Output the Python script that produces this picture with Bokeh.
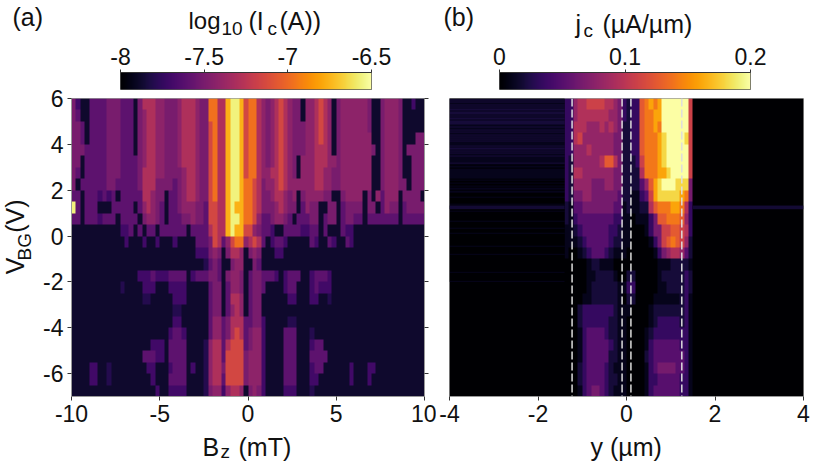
import numpy as np
from bokeh.core.properties import value
from bokeh.embed import file_html
from bokeh.layouts import column, row
from bokeh.models import ColumnDataSource, FixedTicker, LinearAxis, LinearColorMapper, Range1d, Span
from bokeh.palettes import Inferno256
from bokeh.plotting import figure
from bokeh.resources import INLINE

FONT = "Liberation Sans"
TICK_SIZE = "23px"
TEXT_COLOR = "#111111"

BZ_TICKS = [-10, -5, 0, 5, 10]
VBG_TICKS = [-6, -4, -2, 0, 2, 4, 6]
Y_TICKS = [-4, -2, 0, 2, 4]
CB_A_TICKS = [-8, -7.5, -7, -6.5]
CB_A_LABELS = ["-8", "-7.5", "-7", "-6.5"]
CB_B_TICKS = [0, 0.1, 0.2]
CB_B_LABELS = ["0", "0.1", "0.2"]
DASHED_Y = [-1.23, -0.1, 0.1, 1.25]

LEVELS_A = [-7.88, -7.8, -7.7, -7.6, -7.5, -7.42, -7.3, -7.15, -6.97, -6.76, -6.56]
LEVELS_B = [0, 0.01, 0.02, 0.035, 0.05, 0.065, 0.08, 0.095, 0.11, 0.125, 0.14, 0.16, 0.18, 0.2]

# Panel (a): top row first, V_BG from 6 to -7 in 0.5 V rows, B_z from -10 to 10 in 0.25 mT columns
ROWS_A = [
    "4200333344 4333046665 5444566654 488669aa97 8865456765 4405567650 4555555400 4555400200",
    "4300333344 4333045665 5444566654 488669aa97 8865456765 4405567650 4555555400 4555400000",
    "4430333344 4333045665 5444566654 478669aa97 8865456765 4445567650 4555555400 4555400000",
    "4430333344 4333045665 5444566654 478669aa97 8865456765 4445567650 4555555500 4555400044",
    "4443333344 4333045665 5444566654 478669aa97 8865456765 4445566650 4555555540 4555404444",
    "4403333344 4333345665 5444566654 478669aa97 8865456765 4055566655 4555555500 4555400444",
    "4303333344 4333346665 5444456654 478669aa97 8865566765 4055566554 4555555500 4555400444",
    "4033333344 3333346664 4443456654 478669aa98 8764556765 5555566554 4555555500 4555440444",
    "3303332323 0333336654 4033456654 478669aa98 8764456654 5045555440 0455550405 3555044440",
    "a303330003 3333035654 3033455544 377669a998 8764445654 4035440044 0344440440 3544034444",
    "3303332333 0333304554 3033344544 377669aa98 8753345543 0333440344 0344330333 3333033333",
    "0000000000 0223030330 3333330333 367669a997 7543320033 3322330300 0322000000 0000000000",
    "0000000000 0020002002 0002000033 3476357885 6763023320 0000320032 0032000000 0000000000",
    "0000000000 0000000000 0000000022 2454046650 4540002200 0000000000 0000000000 0000000000",
    "0000000000 0000000000 0000000000 1343004550 0430000000 0000000000 0000000000 0000000000",
    "0000000000 0000022232 2233330233 3443045540 3443332023 3300233320 0000000000 0000000000",
    "0000000000 0100002220 0022220000 0344035540 3443000023 3000232220 0000000000 0000000000",
    "0000000000 0000001100 0002220000 0344036650 3440000002 2000220010 0000000000 0000000000",
    "0000000000 0000000000 0001100000 0344035650 3440000000 0000000000 0000000000 0000000000",
    "0000000000 0000000000 0002200000 0355346663 3442000001 1000000000 0000000000 0000000000",
    "0000000000 0000000000 0023320000 0355346763 4552000033 3000100000 0000000000 0000000000",
    "0000000000 0000000022 2033330000 1566367773 4552000033 3000233000 0000000000 0000000000",
    "0000000000 0000003332 2033330000 1566377774 5552000033 3000333300 0000000000 0000000000",
    "0000220010 0000000220 0023330200 1566477774 5552000033 3000233000 0002000220 0000000000",
    "0000220010 0000000020 0033330000 1566377774 5552000033 3000220000 0002000200 0000000000",
    "0000000000 0000000002 0022220000 1455256650 4542000022 2000100000 0000000000 0000000000",
]

# Panel (b): top row first, y from -1.4 to 1.5 in 0.1 um columns
ROWS_B = [
    "33 67788887765 3233 9abab ddddd d8",
    "33 67777777665 3233 9aabb ddddd d8",
    "33 77766676765 2233 9aaba ddddd d8",
    "33 78666666655 2233 9aaab cdddd c8",
    "33 66676666655 2233 9aaab cdddd d8",
    "32 66666679975 2223 8aaab cdddd d8",
    "32 77666666655 2222 7aaab bcddd d8",
    "32 66665556655 2222 469bc dddcc c5",
    "32 55665555554 2211 348bc ccccb a5",
    "21 44555555544 1211 2279a aabba 73",
    "21 34444444433 1101 11359 9aaa9 63",
    "11 23444444332 1100 01355 88998 73",
    "11 12344444322 1100 00135 89a98 62",
    "10 01234443211 1000 00013 56776 42",
    "00 00012211100 0000 00001 11222 21",
    "00 00011222210 0220 00001 22222 32",
    "00 00012222221 1330 00001 12222 32",
    "00 00112222221 0220 00011 11112 31",
    "00 02333333321 1100 00122 22222 31",
    "00 02333333221 1000 00123 33332 31",
    "00 01344443221 1000 01233 33333 31",
    "00 01344444321 1000 01344 44443 31",
    "00 01344444221 1000 02344 44444 31",
    "00 02344443211 1000 01345 55544 31",
    "00 02344443221 1000 01334 44443 31",
    "00 01345543211 1000 01344 44443 31",
]
# Horizontal noise left of the device edge, top row first, 0.125 V rows
LEFT_STRIPES = (
    "21221212" "12212122" "21122121" "22121212" "12212112" "21212122" "12121221" "12122112"
    "11211212" "12112111" "21111211" "11211011" "10111101" "11011011" "01101010" "10100110"
    "01010010" "00100100" "00010010" "01000100" "00100000" "00010000" "00000100" "00001000"
    "00100000" "00000010" "00000000" "01000000" "00000100" "00000000" "00100000" "00000001"
)
THIN_LINE_V = 1.25
THIN_LINE_LEVEL = 0.018

# Text runs (string, page x, page baseline y, size)
HEAD_TEXTS = [("(a)", 12, 24, 25), ("log", 188, 28, 24), ("10", 221, 36, 19), ("(I", 248, 28, 25),
              ("c", 267, 36, 19), ("(A))", 279, 28, 25), ("(b)", 443, 24, 25), ("j", 575, 31, 25),
              ("c", 583, 38, 19), ("(µA/µm)", 602, 31, 25)]
FOOT_TEXTS = [("B", 202, 454, 25), ("z", 220, 459, 19), ("(mT)", 238, 454, 25), ("y (µm)", 590, 454, 25)]
SIDE_TEXTS = [("V", 22, 288, 25), ("BG", 32, 272, 19), ("(V)", 22, 240, 25)]
BASELINE_SHIFT = 8


def grid_a():
    out = []
    for r in ROWS_A:
        s = "".join(g[:10].ljust(10, "0") for g in r.split())
        out.append([LEVELS_A[int(c, 16)] for c in s])
    return np.array(out[::-1])


def grid_b():
    out = []
    for r in ROWS_B:
        s = ("0" * 26 + "".join(r.split())).ljust(80, "0")[:80]
        out.append([LEVELS_B[int(c, 16)] for c in s])
    return np.array(out[::-1])


map_a = LinearColorMapper(palette=Inferno256, low=-8, high=-6.5)
map_b = LinearColorMapper(palette=Inferno256, low=0, high=0.2)


def style_axis(ax, ticks, labels=None, show_labels=True):
    ax.ticker = FixedTicker(ticks=ticks)
    ax.major_label_overrides = {t: (labels[i] if labels else str(t)) for i, t in enumerate(ticks)}
    ax.major_label_text_font = FONT
    ax.major_label_text_font_size = TICK_SIZE if show_labels else "0px"
    ax.major_label_text_color = TEXT_COLOR if show_labels else None
    ax.major_label_standoff = 4
    ax.major_tick_in = 0
    ax.major_tick_out = 4
    ax.major_tick_line_color = "#333333"
    ax.minor_tick_line_color = None
    ax.axis_line_color = "#999999"


def strip(x0, x1, y0, y1, texts, angle=0.0):
    f = figure(width=x1 - x0, height=y1 - y0, output_backend="svg", toolbar_location=None,
               x_range=Range1d(x0, x1), y_range=Range1d(y1, y0), x_axis_type=None, y_axis_type=None,
               min_border_left=0, min_border_right=0, min_border_top=0, min_border_bottom=0)
    f.grid.visible = False
    f.outline_line_color = None
    f.border_fill_color = None
    f.background_fill_color = None
    dx, dy = (BASELINE_SHIFT, 0) if angle else (0, BASELINE_SHIFT)
    src = ColumnDataSource(dict(x=[t[1] - dx for t in texts], y=[t[2] - dy for t in texts],
                                s=[t[0] for t in texts], size=[f"{t[3]}px" for t in texts]))
    f.text(x="x", y="y", text="s", source=src, angle=angle, text_font=value(FONT), text_font_size="size",
           text_color=TEXT_COLOR, text_baseline="alphabetic", text_align="left")
    return f


def colorbar(mapper, lo, hi, ticks, labels, border_left, width):
    f = figure(width=width, height=52, output_backend="svg", toolbar_location=None,
               x_range=Range1d(lo, hi), y_range=Range1d(0, 1), x_axis_location="above", y_axis_type=None,
               min_border_left=border_left, min_border_right=width - border_left - 251,
               min_border_top=34, min_border_bottom=1)
    f.grid.visible = False
    f.border_fill_color = None
    f.image(image=[np.linspace(lo, hi, 256).reshape(1, -1)], x=lo, y=0, dw=hi - lo, dh=1, color_mapper=mapper)
    style_axis(f.xaxis[0], ticks, labels)
    f.xaxis[0].major_tick_out = 3
    f.xaxis[0].major_label_standoff = 5
    f.xaxis[0].axis_line_color = "#333333"
    f.outline_line_color = "#555555"
    return f


head = strip(0, 813, 0, 44, HEAD_TEXTS)
cb_a = colorbar(map_a, -8, -6.5, CB_A_TICKS, CB_A_LABELS, 120, 436)
cb_b = colorbar(map_b, 0, 0.2, CB_B_TICKS, CB_B_LABELS, 63, 377)
side = strip(0, 36, 84, 430, SIDE_TEXTS, angle=np.pi / 2)
foot = strip(0, 813, 430, 462, FOOT_TEXTS)

# ---- panel (a) ----
pa = figure(width=400, height=346, output_backend="svg", toolbar_location=None,
            x_range=Range1d(-10, 10), y_range=Range1d(-7, 6),
            min_border_left=35, min_border_right=12, min_border_top=14, min_border_bottom=34)
pa.grid.visible = False
pa.border_fill_color = None
pa.image(image=[grid_a()], x=-10, y=-7, dw=20, dh=13, color_mapper=map_a)
style_axis(pa.xaxis[0], BZ_TICKS)
style_axis(pa.yaxis[0], VBG_TICKS)
right_axis = LinearAxis()
style_axis(right_axis, VBG_TICKS, show_labels=False)
pa.add_layout(right_axis, "right")
pa.outline_line_color = "#999999"

# ---- panel (b) ----
pb = figure(width=377, height=346, output_backend="svg", toolbar_location=None,
            x_range=Range1d(-4, 4), y_range=Range1d(-7, 6),
            min_border_left=13, min_border_right=10, min_border_top=14, min_border_bottom=34, y_axis_type=None)
pb.grid.visible = False
pb.border_fill_color = None
pb.image(image=[grid_b()], x=-4, y=-7, dw=8, dh=13, color_mapper=map_b)
stripes = np.array([[LEVELS_B[int(c)]] for c in LEFT_STRIPES[::-1]])
pb.image(image=[stripes], x=-4, y=-2, dw=2.6, dh=8, color_mapper=map_b)
for x0, w in ((-4, 2.6), (1.5, 2.5)):
    pb.image(image=[np.array([[THIN_LINE_LEVEL]])], x=x0, y=THIN_LINE_V - 0.08, dw=w, dh=0.16, color_mapper=map_b)
for yv in DASHED_Y:
    pb.add_layout(Span(location=yv, dimension="height", line_color="#dddddd", line_width=1.5, line_dash="8 3"))
style_axis(pb.xaxis[0], Y_TICKS)
pb.outline_line_color = "#999999"

page = column(
    head,
    row(cb_a, cb_b, spacing=0, margin=(-6, 0, 0, 0)),
    row(side, pa, pb, spacing=0, margin=(-6, 0, 0, 0)),
    foot,
    spacing=0,
)
open("out.html", "w").write(file_html(page, INLINE))
